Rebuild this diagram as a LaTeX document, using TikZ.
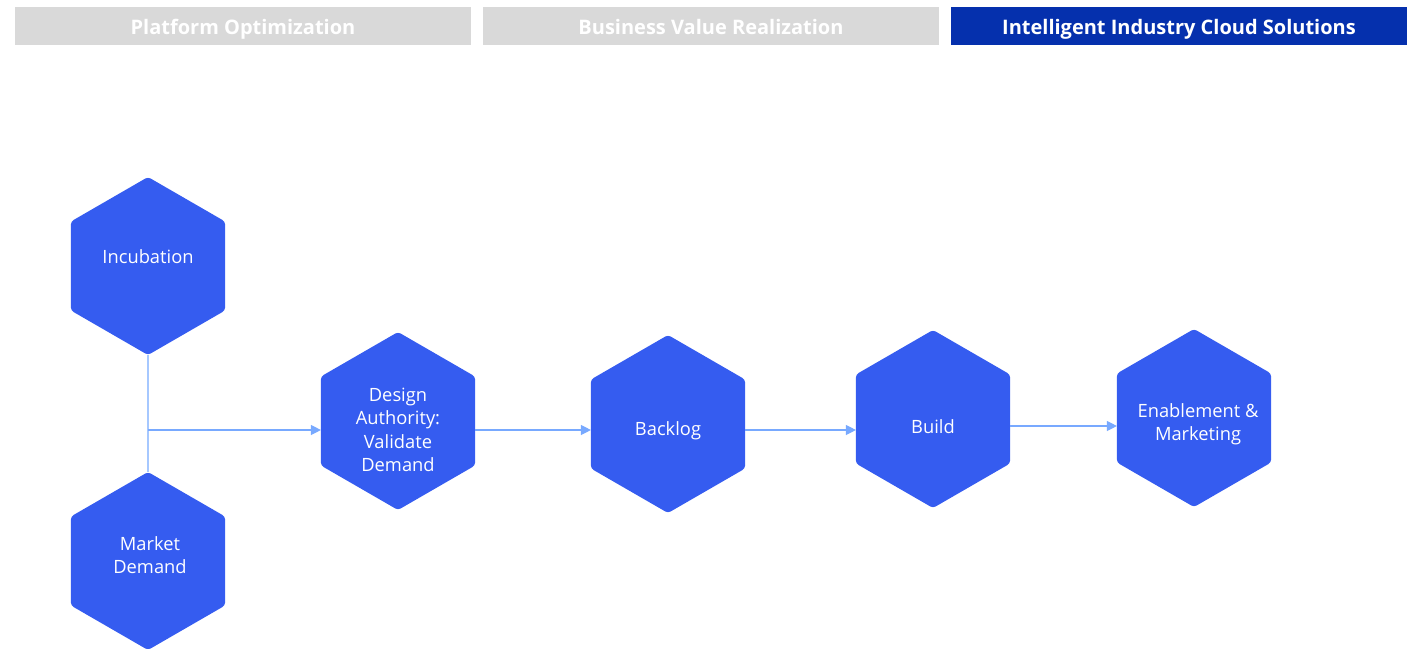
\documentclass[tikz,border=0pt]{standalone}
\usepackage{fontspec}
\setmainfont{Open Sans}
\usetikzlibrary{shapes.geometric,arrows.meta}
\definecolor{hexblue}{HTML}{355CF0}
\definecolor{hdrblue}{HTML}{0530AD}
\definecolor{hdrgray}{HTML}{D9D9D9}
\definecolor{arrowblue}{HTML}{78A9FF}
\definecolor{lineblue}{HTML}{A6C8FF}
\tikzset{
  hex/.style={regular polygon, regular polygon sides=6, shape border rotate=30,
    minimum size=178pt, inner sep=0pt, outer sep=0pt, fill=hexblue, draw=none,
    rounded corners=3pt},
  lbl/.style={text=white, font=\fontsize{18.3}{23.5}\selectfont, align=center, inner sep=0pt},
  hdr/.style={minimum width=456pt, minimum height=38pt, inner sep=0pt, outer sep=0pt,
    font=\fontsize{20}{24}\selectfont\bfseries, text=white,
    text height=17pt, text depth=1pt},
  conn/.style={draw=arrowblue, line width=1.2pt, -{Triangle[length=10pt,width=10pt]}},
  plain/.style={draw=lineblue, line width=1.2pt}
}
\begin{document}
\begin{tikzpicture}[x=1pt,y=-1pt]
\useasboundingbox (0,0) rectangle (1408,648);
% headers
\node[hdr, fill=hdrgray] (h1) at (243,26) {Platform Optimization};
\node[hdr, fill=hdrgray] (h2) at (711,26) {Business Value Realization};
\node[hdr, fill=hdrblue] (h3) at (1179,26) {Intelligent Industry Cloud Solutions};
% hexagons
\node[hex] (inc) at (148,266) {};
\node[hex] (mkt) at (148,561) {};
\node[hex] (des) at (398,421) {};
\node[hex] (bkl) at (668,424) {};
\node[hex] (bld) at (933,419) {};
\node[hex] (enb) at (1194,418) {};
% labels
\node[lbl] (incT) at (148,257) {Incubation};
\node[lbl] (mktT) at (150,555) {Market\\Demand};
\node[lbl] (desT) at (398,430) {Design\\Authority:\\Validate\\Demand};
\node[lbl] (bklT) at (668,431) {Backlog};
\node[lbl] (bldT) at (933,427) {Build};
\node[lbl] (enbT) at (1198,424) {Enablement \&\\Marketing};
% connectors
\coordinate (j) at (148,430);
\draw[plain] (inc.south) -- (mkt.north);
\draw[conn] (j) -- (j -| des.west);
\draw[conn] (des.east |- 0,430) -- (bkl.west |- 0,430);
\draw[conn] (bkl.east |- 0,430) -- (bld.west |- 0,430);
\draw[conn] (bld.east |- 0,426) -- (enb.west |- 0,426);
\end{tikzpicture}
\end{document}
